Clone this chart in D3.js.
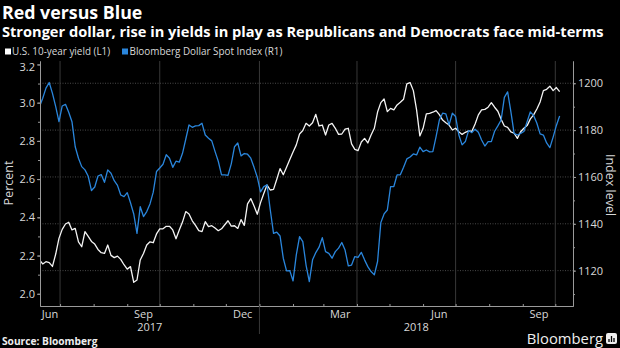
<html>
<script src="https://d3js.org/d3.v7.min.js"></script>
<style>
body { margin: 0; background: #000; }
svg text { font-family: "Open Sans", sans-serif; }
</style>
<body>
<svg width="620" height="348"></svg>
<script>
// sampled every third day
var dates = [
 "2017-06-12","2017-06-15","2017-06-18","2017-06-21","2017-06-24","2017-06-27","2017-06-30",
 "2017-07-03","2017-07-06","2017-07-09","2017-07-12","2017-07-15","2017-07-18","2017-07-21","2017-07-24","2017-07-27","2017-07-30",
 "2017-08-02","2017-08-05","2017-08-08","2017-08-11","2017-08-14","2017-08-17","2017-08-20","2017-08-23","2017-08-26","2017-08-29",
 "2017-09-01","2017-09-04","2017-09-07","2017-09-10","2017-09-13","2017-09-16","2017-09-19","2017-09-22","2017-09-25","2017-09-28",
 "2017-10-01","2017-10-04","2017-10-07","2017-10-10","2017-10-13","2017-10-16","2017-10-19","2017-10-22","2017-10-25","2017-10-28","2017-10-31",
 "2017-11-03","2017-11-06","2017-11-09","2017-11-12","2017-11-15","2017-11-18","2017-11-21","2017-11-24","2017-11-27","2017-11-30",
 "2017-12-03","2017-12-06","2017-12-09","2017-12-12","2017-12-15","2017-12-18","2017-12-21","2017-12-24","2017-12-27","2017-12-30",
 "2018-01-02","2018-01-05","2018-01-08","2018-01-11","2018-01-14","2018-01-17","2018-01-20","2018-01-23","2018-01-26","2018-01-29",
 "2018-02-01","2018-02-04","2018-02-07","2018-02-10","2018-02-13","2018-02-16","2018-02-19","2018-02-22","2018-02-25","2018-02-28",
 "2018-03-03","2018-03-06","2018-03-09","2018-03-12","2018-03-15","2018-03-18","2018-03-21","2018-03-24","2018-03-27","2018-03-30",
 "2018-04-02","2018-04-05","2018-04-08","2018-04-11","2018-04-14","2018-04-17","2018-04-20","2018-04-23","2018-04-26","2018-04-29",
 "2018-05-02","2018-05-05","2018-05-08","2018-05-11","2018-05-14","2018-05-17","2018-05-20","2018-05-23","2018-05-26","2018-05-29",
 "2018-06-01","2018-06-04","2018-06-07","2018-06-10","2018-06-13","2018-06-16","2018-06-19","2018-06-22","2018-06-25","2018-06-28",
 "2018-07-01","2018-07-04","2018-07-07","2018-07-10","2018-07-13","2018-07-16","2018-07-19","2018-07-22","2018-07-25","2018-07-28","2018-07-31",
 "2018-08-03","2018-08-06","2018-08-09","2018-08-12","2018-08-15","2018-08-18","2018-08-21","2018-08-24","2018-08-27","2018-08-30",
 "2018-09-02","2018-09-05","2018-09-08","2018-09-11","2018-09-14","2018-09-17","2018-09-20","2018-09-23","2018-09-26","2018-09-29",
 "2018-10-02","2018-10-05"
];

// U.S. 10-year yield, percent (left axis)
var yieldValues = [
 2.177,2.156,2.168,2.163,2.143,2.208,2.290,2.337,2.365,2.374,
 2.334,2.342,2.272,2.246,2.325,2.300,2.274,2.260,2.232,2.215,
 2.211,2.255,2.201,2.189,2.197,2.180,2.152,2.129,2.142,2.060,
 2.072,2.177,2.211,2.255,2.272,2.267,2.313,2.340,2.340,2.353,
 2.353,2.334,2.288,2.334,2.375,2.430,2.417,2.382,2.358,2.330,
 2.325,2.377,2.351,2.356,2.344,2.330,2.340,2.361,2.382,2.354,
 2.356,2.342,2.388,2.358,2.470,2.498,2.459,2.416,2.477,2.525,
 2.569,2.543,2.546,2.599,2.655,2.623,2.662,2.702,2.742,2.779,
 2.836,2.854,2.892,2.878,2.895,2.939,2.878,2.883,2.831,2.883,
 2.892,2.866,2.834,2.836,2.862,2.866,2.784,2.756,2.749,2.794,
 2.813,2.789,2.831,2.866,2.951,3.000,3.019,2.953,2.970,2.962,
 2.988,3.002,3.018,3.098,3.105,3.063,2.962,2.826,2.866,2.941,
 2.944,2.950,2.958,2.937,2.909,2.895,2.883,2.857,2.866,2.848,
 2.834,2.845,2.852,2.850,2.888,2.936,2.962,2.965,2.976,3.000,
 2.976,2.955,2.913,2.878,2.871,2.847,2.840,2.813,2.848,2.866,
 2.880,2.915,2.936,2.967,3.004,3.063,3.070,3.086,3.063,3.079,3.058
];

// Bloomberg Dollar Spot Index (right axis)
var dollarValues = [
 1190.0,1193.6,1197.9,1200.3,1195.7,1190.0,1183.6,1190.3,1191.0,1187.6,
 1183.6,1172.9,1168.0,1164.4,1163.0,1160.3,1154.2,1155.7,1160.4,1161.0,
 1157.7,1163.0,1161.6,1158.4,1156.4,1152.3,1151.6,1153.3,1149.0,1144.2,
 1135.9,1147.3,1143.1,1145.2,1148.5,1153.5,1162.3,1163.8,1165.4,1169.5,
 1168.0,1164.1,1166.7,1166.3,1170.1,1176.1,1182.2,1181.2,1181.8,1181.9,
 1182.9,1177.9,1176.5,1175.4,1170.9,1166.7,1160.9,1160.9,1160.7,1165.6,
 1172.9,1174.5,1169.0,1170.0,1169.7,1168.0,1164.1,1159.9,1153.6,1155.9,
 1156.6,1145.9,1135.9,1136.4,1134.8,1125.3,1119.9,1120.0,1115.6,1126.7,
 1134.5,1132.4,1122.4,1115.3,1124.6,1127.7,1130.0,1134.1,1128.1,1127.4,
 1125.3,1128.1,1129.6,1132.0,1128.8,1122.0,1122.4,1126.0,1125.7,1127.8,
 1124.6,1121.7,1119.6,1118.2,1123.9,1140.5,1144.2,1145.9,1155.9,1155.9,
 1160.9,1160.9,1164.1,1167.7,1168.5,1169.8,1169.4,1172.7,1170.8,1171.5,
 1170.7,1170.8,1177.2,1184.3,1187.2,1186.9,1182.2,1187.2,1185.8,1177.9,
 1173.7,1175.1,1179.8,1178.9,1180.4,1179.1,1175.8,1173.2,1175.1,1175.1,
 1179.5,1181.8,1184.3,1194.0,1196.3,1187.9,1178.6,1177.9,1178.6,1179.4,
 1183.6,1187.8,1186.2,1182.9,1178.4,1177.9,1174.5,1172.5,1177.0,1182.0,1186.0
];

var leftTicks = [2.0, 2.2, 2.4, 2.6, 2.8, 3.0, 3.2];
var rightTicks = [1120, 1140, 1160, 1180, 1200];
var quarterLines = ["2017-07-01","2017-10-01","2018-01-01","2018-04-01","2018-07-01","2018-10-01"];
var monthLabels = [["2017-06","Jun"],["2017-09","Sep"],["2017-12","Dec"],["2018-03","Mar"],["2018-06","Jun"],["2018-09","Sep"]];
var yearLabels = ["2017", "2018"];
var seriesNames = ["U.S. 10-year yield (L1)", "Bloomberg Dollar Spot Index (R1)"];

function draw() {
  var pl = 40, pr = 573, pt = 61, pb = 306;
  var blue = "#2a86dc", txt = "#d8d8d8";

  var parseDay = d3.utcParse("%Y-%m-%d"), parseMonth = d3.utcParse("%Y-%m");
  var days = dates.map(parseDay);

  var x = d3.scaleUtc()
    .domain([new Date(Date.UTC(2017, 5, 12, 12)), new Date(Date.UTC(2018, 9, 17, 8))])
    .range([pl, pr]);
  var yL = d3.scaleLinear().domain([1.936, 3.218]).range([pb, pt]);
  var yR = d3.scaleLinear().domain([1104.9, 1209.5]).range([pb, pt]);

  var svg = d3.select("svg");
  svg.append("rect").attr("width", 620).attr("height", 348).attr("fill", "#000");

  // titles
  svg.append("text").attr("x", 2).attr("y", 18.5).attr("fill", "#fff")
    .attr("font-size", 17.8).attr("font-weight", 700).text("Red versus Blue");
  svg.append("text").attr("x", 2).attr("y", 37).attr("fill", "#fff")
    .attr("font-size", 14.6).attr("font-weight", 700)
    .text("Stronger dollar, rise in yields in play as Republicans and Democrats face mid-terms");

  // legend
  var legend = svg.append("g").attr("font-size", 9.9).attr("fill", txt);
  legend.append("rect").attr("x", 5).attr("y", 48.5).attr("width", 6).attr("height", 6).attr("fill", "#fff");
  legend.append("text").attr("x", 12).attr("y", 55).text(seriesNames[0]);
  legend.append("rect").attr("x", 122).attr("y", 48.5).attr("width", 6).attr("height", 6).attr("fill", blue);
  legend.append("text").attr("x", 129.5).attr("y", 55).text(seriesNames[1]);

  // grid
  svg.append("g").selectAll("line").data(rightTicks).join("line")
    .attr("x1", pl).attr("x2", pr)
    .attr("y1", d => yR(d)).attr("y2", d => yR(d))
    .attr("stroke", "#5a5a5a").attr("stroke-width", 0.8).attr("stroke-dasharray", "1,1.5");
  svg.append("g").selectAll("line").data(quarterLines.map(parseDay)).join("line")
    .attr("x1", d => x(d)).attr("x2", d => x(d))
    .attr("y1", pt).attr("y2", pb)
    .attr("stroke", "#383838").attr("stroke-width", 1);

  // series
  svg.append("clipPath").attr("id", "plot").append("rect")
    .attr("x", pl).attr("y", pt).attr("width", pr - pl).attr("height", pb - pt);

  var lineL = d3.line().x((d, i) => x(days[i])).y(d => yL(d));
  var lineR = d3.line().x((d, i) => x(days[i])).y(d => yR(d));

  svg.append("path").datum(yieldValues).attr("clip-path", "url(#plot)")
    .attr("d", lineL).attr("fill", "none").attr("stroke", "#f4f4f4")
    .attr("stroke-width", 1.3).attr("stroke-linejoin", "round");
  svg.append("path").datum(dollarValues).attr("clip-path", "url(#plot)")
    .attr("d", lineR).attr("fill", "none").attr("stroke", blue)
    .attr("stroke-width", 1.3).attr("stroke-linejoin", "round");

  // axes
  function styleAxis(g) {
    g.selectAll("path.domain").attr("stroke", "#9a9a9a");
    g.selectAll(".tick line").attr("stroke", "#9a9a9a");
    g.selectAll("text").attr("fill", txt).attr("font-size", 11)
      .attr("font-family", "'Open Sans', sans-serif");
  }

  var minorL = d3.range(20, 33).map(d => d / 10);
  svg.append("g").attr("transform", "translate(" + pl + ",0)")
    .call(d3.axisLeft(yL).tickValues(minorL).tickSize(2).tickSizeOuter(0).tickFormat(""))
    .call(styleAxis);
  var gL = svg.append("g").attr("transform", "translate(" + pl + ",0)")
    .call(d3.axisLeft(yL).tickValues(leftTicks).tickSize(3).tickSizeOuter(0).tickPadding(2).tickFormat(d3.format(".1f")))
    .call(styleAxis);
  // top label sits a little lower, clear of the legend
  gL.selectAll(".tick").filter(d => d === 3.2).select("text").attr("dy", "0.55em");

  var minorR = d3.range(1110, 1210, 10);
  svg.append("g").attr("transform", "translate(" + pr + ",0)")
    .call(d3.axisRight(yR).tickValues(minorR).tickSize(2).tickSizeOuter(0).tickFormat(""))
    .call(styleAxis);
  svg.append("g").attr("transform", "translate(" + pr + ",0)")
    .call(d3.axisRight(yR).tickValues(rightTicks).tickSize(3).tickSizeOuter(0).tickPadding(2).tickFormat(d3.format("d")))
    .call(styleAxis);

  var months = d3.utcMonth.range(x.domain()[0], x.domain()[1]);
  svg.append("g").attr("transform", "translate(0," + pb + ")")
    .call(d3.axisBottom(x).tickValues(months).tickSize(-2).tickSizeOuter(0).tickFormat(""))
    .call(styleAxis);

  // month and year labels, centred on the visible part of each period
  function midOf(a, b) {
    return (Math.max(pl, x(a)) + Math.min(pr, x(b))) / 2;
  }
  svg.append("g").selectAll("text").data(monthLabels).join("text")
    .attr("x", d => { var m = parseMonth(d[0]); return midOf(m, d3.utcMonth.offset(m, 1)); })
    .attr("y", 317.5).attr("text-anchor", "middle").attr("font-size", 11).attr("fill", txt)
    .text(d => d[1]);

  var yearStart = parseDay("2018-01-01");
  svg.append("line").attr("x1", x(yearStart)).attr("x2", x(yearStart))
    .attr("y1", pb).attr("y2", 334).attr("stroke", "#383838");
  svg.append("g").selectAll("text").data(yearLabels).join("text")
    .attr("x", d => midOf(new Date(Date.UTC(+d, 0, 1)), new Date(Date.UTC(+d + 1, 0, 1))))
    .attr("y", 331).attr("text-anchor", "middle").attr("font-size", 11).attr("fill", txt)
    .text(d => d);

  // axis titles
  svg.append("text").attr("transform", "translate(12.5,183) rotate(-90)")
    .attr("text-anchor", "middle").attr("font-size", 12.5).attr("fill", txt).text("Percent");
  svg.append("text").attr("transform", "translate(606,185) rotate(90)")
    .attr("text-anchor", "middle").attr("font-size", 12.5).attr("fill", txt).text("Index level");

  // footer
  svg.append("text").attr("x", 2).attr("y", 345).attr("font-size", 10.2).attr("font-weight", 700)
    .attr("fill", "#eee").text("Source: Bloomberg");
  svg.append("text").attr("x", 603).attr("y", 344).attr("text-anchor", "end")
    .attr("font-size", 14.8).attr("fill", "#eee").text("Bloomberg");
  var icon = svg.append("g").attr("transform", "translate(606,333)");
  icon.append("rect").attr("width", 11).attr("height", 11).attr("rx", 2).attr("fill", "#eee");
  icon.selectAll("line").data([[3, 6], [5.5, 3], [8, 5]]).join("line")
    .attr("x1", d => d[0]).attr("x2", d => d[0]).attr("y1", d => d[1]).attr("y2", 9)
    .attr("stroke", "#000").attr("stroke-width", 1.3);
}
draw();
</script>
</body>
</html>
